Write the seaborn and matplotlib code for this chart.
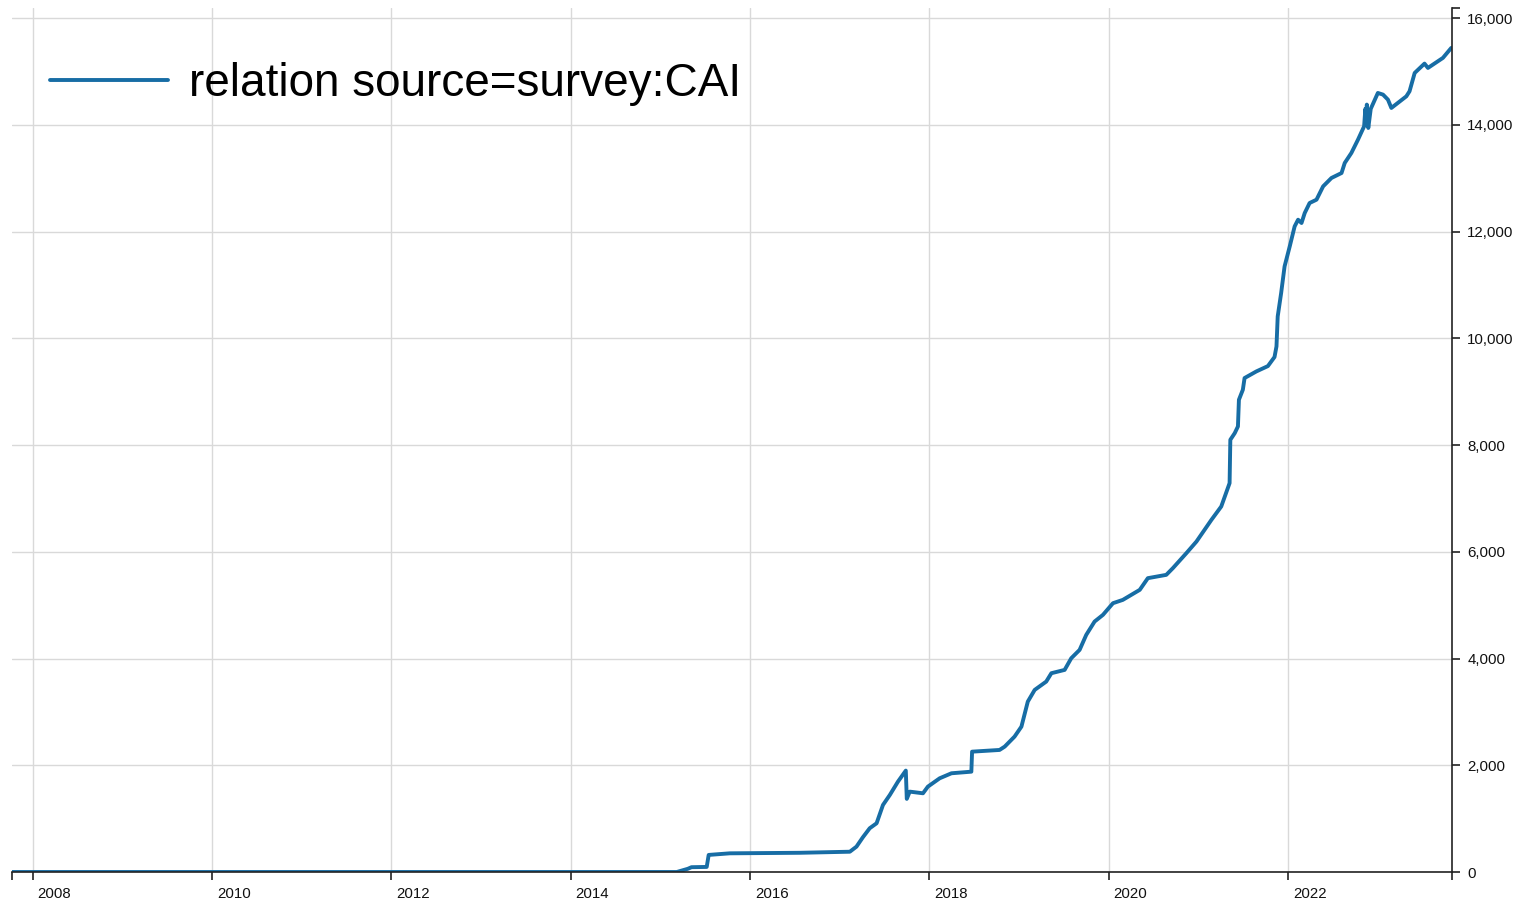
import pandas as pd
import numpy as np
import matplotlib
matplotlib.use("Agg")
import matplotlib.pyplot as plt
import matplotlib.dates as mdates
import matplotlib.transforms as mtransforms
from matplotlib.ticker import FuncFormatter, FixedLocator
import seaborn as sns

# series values
dates = [
    "2007-10-09", "2015-03-09", "2015-04-23", "2015-05-08", "2015-07-09",
    "2015-07-17", "2015-10-11", "2016-07-22", "2017-02-11", "2017-03-10",
    "2017-04-05", "2017-05-03", "2017-05-31", "2017-06-26", "2017-07-24",
    "2017-08-26", "2017-09-27", "2017-10-01", "2017-10-13", "2017-12-06",
    "2017-12-26", "2018-02-12", "2018-04-01", "2018-06-21", "2018-06-24",
    "2018-10-14", "2018-11-04", "2018-12-14", "2019-01-11", "2019-02-06",
    "2019-03-06", "2019-04-22", "2019-05-13", "2019-07-06", "2019-08-02",
    "2019-09-05", "2019-10-02", "2019-11-05", "2019-12-09", "2020-01-19",
    "2020-02-28", "2020-05-07", "2020-06-09", "2020-08-23", "2020-09-19",
    "2020-11-13", "2020-12-24", "2021-02-23", "2021-04-04", "2021-05-08",
    "2021-05-11", "2021-05-29", "2021-06-11", "2021-06-15", "2021-07-01",
    "2021-07-08", "2021-08-25", "2021-10-11", "2021-11-07", "2021-11-15",
    "2021-11-20", "2021-12-04", "2021-12-18", "2022-01-08", "2022-01-28",
    "2022-02-11", "2022-02-25", "2022-03-10", "2022-03-30", "2022-04-27",
    "2022-05-24", "2022-06-27", "2022-08-07", "2022-08-20", "2022-09-16",
    "2022-10-13", "2022-11-07", "2022-11-12", "2022-11-14", "2022-11-18",
    "2022-11-24", "2022-12-04", "2023-01-02", "2023-01-23", "2023-02-12",
    "2023-02-26", "2023-04-28", "2023-05-11", "2023-06-01", "2023-07-11",
    "2023-07-25", "2023-09-24", "2023-10-28",
]
counts = [
    0, 0, 60, 90, 95,
    320, 350, 360, 380, 475,
    650, 820, 913, 1256, 1444,
    1693, 1900, 1370, 1506, 1475,
    1600, 1756, 1850, 1880, 2255,
    2287, 2350, 2537, 2724, 3193,
    3412, 3568, 3725, 3787, 4006,
    4162, 4443, 4693, 4818, 5037,
    5099, 5287, 5506, 5568, 5694,
    5975, 6192, 6599, 6849, 7287,
    8099, 8224, 8349, 8849, 9037,
    9256, 9380, 9480, 9650, 9849,
    10411, 10849, 11348, 11723, 12098,
    12223, 12161, 12348, 12536, 12598,
    12848, 13005, 13098, 13286, 13473,
    13723, 13973, 14300, 14000, 14380,
    13942, 14300, 14598, 14567, 14473,
    14317, 14535, 14629, 14973, 15148,
    15067, 15255, 15442,
]
series_name = "relation source=survey:CAI"
y_ticks = [0, 2000, 4000, 6000, 8000, 10000, 12000, 14000, 16000]

df = pd.DataFrame({"date": pd.to_datetime(dates), "count": counts})

sns.set_style("white")
plt.rcParams["font.family"] = ["Liberation Sans", "DejaVu Sans"]

fig = plt.figure(figsize=(15.22, 9.07), dpi=100)
ax = fig.add_axes([12 / 1522, 1 - 872 / 907, 1440 / 1522, 864 / 907])

line_color = "#176da5"
sns.lineplot(data=df, x="date", y="count", ax=ax, color=line_color,
             linewidth=2.8, label=series_name)

x_start, x_end = pd.Timestamp("2007-10-09"), pd.Timestamp("2023-10-31")
y_top = 16190
ax.set_xlim(x_start, x_end)
ax.set_ylim(0, y_top)

# axes styling: y axis on the right, only bottom/right spines
for side in ["left", "top"]:
    ax.spines[side].set_visible(False)
for side in ["bottom", "right"]:
    ax.spines[side].set_visible(True)
    ax.spines[side].set_color("#222222")
    ax.spines[side].set_linewidth(1.2)

ax.yaxis.tick_right()
ax.set_yticks(y_ticks)
ax.yaxis.set_major_formatter(FuncFormatter(lambda v, p: f"{int(v):,}"))
ax.xaxis.set_major_locator(mdates.YearLocator(2))
ax.xaxis.set_major_formatter(mdates.DateFormatter("%Y"))

# small end caps on the axis lines
ax.xaxis.set_minor_locator(FixedLocator(mdates.date2num([x_start, x_end])))
ax.yaxis.set_minor_locator(FixedLocator([y_top]))

ax.tick_params(axis="both", which="both", direction="out", length=6, width=1.2,
               color="#222222", labelsize=10.8, labelcolor="#111111")
ax.tick_params(axis="x", which="both", bottom=True, pad=5)
ax.tick_params(axis="y", which="both", right=True, left=False, pad=5)

# x labels sit to the right of their tick
offset = mtransforms.ScaledTranslation(5 / 100, 0, fig.dpi_scale_trans)
for lbl in ax.get_xticklabels():
    lbl.set_horizontalalignment("left")
    lbl.set_transform(lbl.get_transform() + offset)

ax.grid(True, which="major", color="#d9d9d9", linewidth=1)
ax.set_axisbelow(True)
ax.set_xlabel("")
ax.set_ylabel("")

leg = ax.legend(loc="upper left", bbox_to_anchor=(0.0264, 0.938), frameon=False,
                handlelength=2.57, handletextpad=0.47, borderpad=0, borderaxespad=0,
                prop={"family": "Liberation Sans", "size": 33})
for h in leg.get_lines():
    h.set_linewidth(2.8)
for t in leg.get_texts():
    t.set_color("black")

fig.savefig("out.png", dpi=100)
